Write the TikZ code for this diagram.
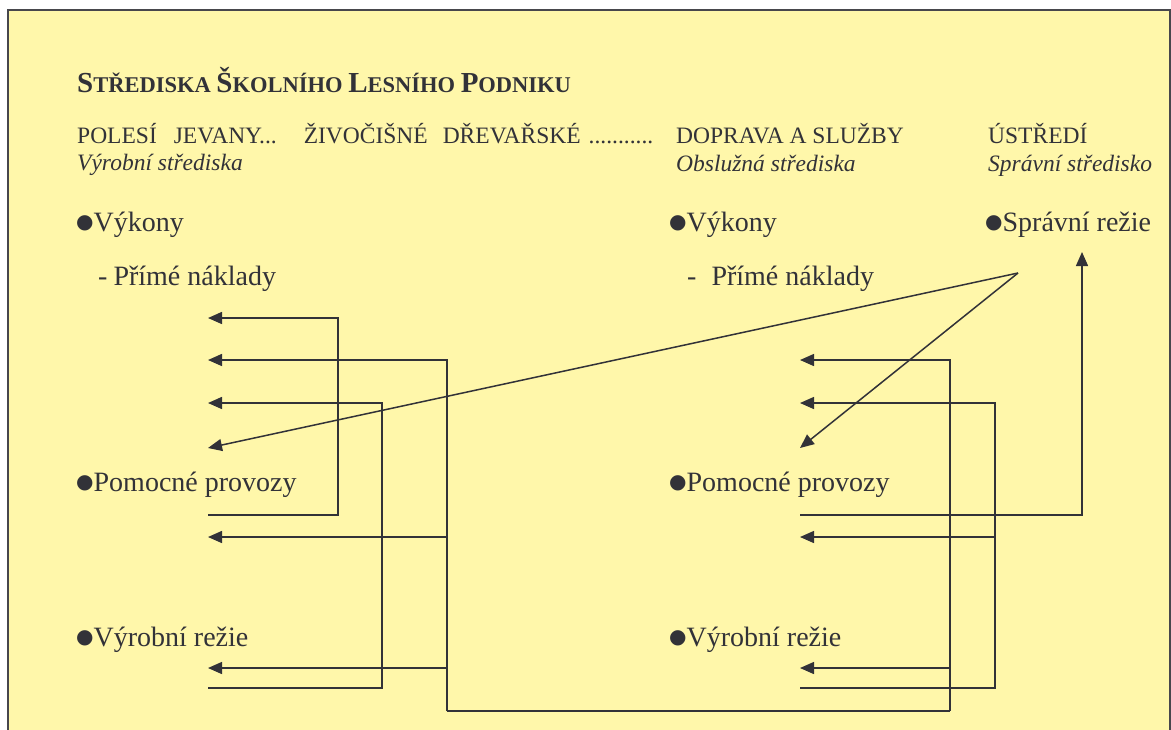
\documentclass[tikz,border=0pt]{standalone}
\usepackage{fontspec}
\setmainfont{Liberation Serif}
\newfontfamily\dotfont{DejaVu Sans}
\usetikzlibrary{arrows.meta}
\definecolor{paperyellow}{RGB}{255,247,170}
\definecolor{inkgray}{RGB}{50,50,56}
\newcommand{\blt}{\raisebox{3pt}{\dotfont\fontsize{20}{20}\selectfont ●}}
\newcommand{\tsc}[2]{{\fontsize{29}{32}\selectfont #1}#2}

\begin{document}
\begin{tikzpicture}[x=1pt, y=-1pt,
  txt/.style={anchor=base west, inner sep=0pt, text=inkgray, font=\fontsize{28}{32}\selectfont},
  head/.style={txt, font=\fontsize{23.5}{27}\selectfont},
  sub/.style={txt, font=\fontsize{23.5}{27}\selectfont\itshape},
  wire/.style={draw=inkgray, line width=1.5pt},
  arr/.style={wire, -{Triangle[length=14pt,width=12pt]}}]

  \useasboundingbox (0,0) rectangle (1171,729);
  \fill[paperyellow, draw=inkgray!90, line width=1.8pt] (8,10) rectangle (1170,745);

  % headings
  \node[txt, font=\fontsize{22.5}{26}\selectfont\bfseries] (title) at (77,92) {\tsc{S}{TŘEDISKA} \tsc{Š}{KOLNÍHO} \tsc{L}{ESNÍHO} \tsc{P}{ODNIKU}};
  \node[head] (polesi) at (77,143) {POLESÍ\hspace{17pt}JEVANY...\hspace{27pt}ŽIVOČIŠNÉ\hspace{15pt}DŘEVAŘSKÉ\hspace{8pt}...........};
  \node[sub] (vyrobni) at (77,170) {Výrobní střediska};
  \node[head] (doprava) at (676,143) {DOPRAVA A SLUŽBY};
  \node[sub] (obsluzna) at (676,171) {Obslužná střediska};
  \node[head] (ustredi) at (988,143) {ÚSTŘEDÍ};
  \node[sub] (spravni) at (988,171) {Správní středisko};

  % left centre
  \node[txt] (vykL) at (76,231) {\blt Výkony};
  \node[txt] (pnL) at (98,285) {-\hspace{6pt}Přímé náklady};
  \node[txt] (pomL) at (76,491) {\blt Pomocné provozy};
  \node[txt] (rezL) at (76,646) {\blt Výrobní režie};
  % right centre
  \node[txt] (vykR) at (669,231) {\blt Výkony};
  \node[txt] (pnR) at (687,285) {-\hspace{15pt}Přímé náklady};
  \node[txt] (pomR) at (669,491) {\blt Pomocné provozy};
  \node[txt] (rezR) at (669,646) {\blt Výrobní režie};
  \node[txt] (sprR) at (985,231) {\blt Správní režie};

  % line ends
  \coordinate (l1) at (208,318);
  \coordinate (l2) at (208,360);
  \coordinate (l3) at (208,403);
  \coordinate (l4) at (208,448);
  \coordinate (l5) at (208,515);
  \coordinate (l6) at (208,537);
  \coordinate (l7) at (208,668);
  \coordinate (l8) at (208,688);
  \coordinate (r2) at (800,360);
  \coordinate (r3) at (800,403);
  \coordinate (r4) at (800,448);
  \coordinate (r5) at (800,515);
  \coordinate (r6) at (800,537);
  \coordinate (r7) at (800,668);
  \coordinate (r8) at (800,688);
  \coordinate (busA) at (338,515);
  \coordinate (busB) at (382,688);
  \coordinate (busC) at (447,711);
  \coordinate (busD) at (950,711);
  \coordinate (busE) at (995,688);
  \coordinate (apex) at (1018,273);
  \coordinate (riser) at (1082,515);
  \coordinate (sprIn) at (1082,252);

  \draw[arr] (l5) -- (busA) |- (l1);
  \draw[arr] (l8) -- (busB) |- (l3);
  \draw[wire] (busC) -- (busD);
  \draw[arr] (busC) |- (l2);
  \draw[arr] (busC |- l6) -- (l6);
  \draw[arr] (busC |- l7) -- (l7);
  \draw[arr] (busD) |- (r2);
  \draw[arr] (busD |- r7) -- (r7);
  \draw[arr] (r8) -- (busE) |- (r3);
  \draw[arr] (busE |- r6) -- (r6);
  \draw[arr] (r5) -- (riser) -- (sprIn);
  \draw[arr] (apex) -- (l4);
  \draw[arr] (apex) -- (r4);
\end{tikzpicture}
\end{document}
